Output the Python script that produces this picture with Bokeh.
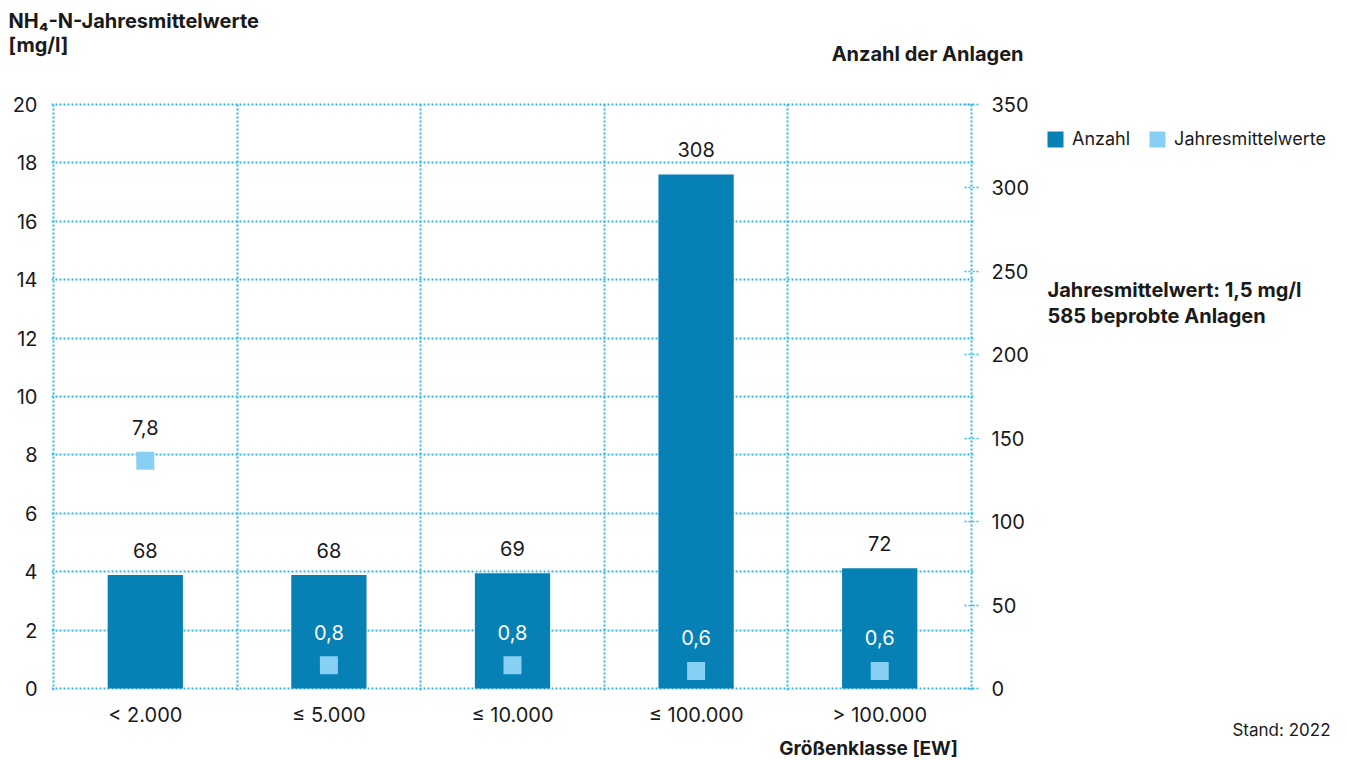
from bokeh.plotting import figure
from bokeh.layouts import column, row
from bokeh.models import (Range1d, LinearAxis, FixedTicker, Legend,
                          LegendItem, ColumnDataSource)
from bokeh.embed import file_html
from bokeh.resources import INLINE
from bokeh.core.properties import value

# ---- data ----
categories = ["< 2.000", "≤ 5.000", "≤ 10.000", "≤ 100.000", "> 100.000"]
anzahl = [68, 68, 69, 308, 72]
jahresmittel = [7.8, 0.8, 0.8, 0.6, 0.6]
left_ticks = [0, 2, 4, 6, 8, 10, 12, 14, 16, 18, 20]
right_ticks = [0, 50, 100, 150, 200, 250, 300, 350]
series_names = ["Anzahl", "Jahresmittelwerte"]

# ---- styles ----
FONT = "Inter"
BAR = "#0780b5"
LIGHT = "#88d0f3"
GRID = "#2db7ea"
TXT = "#1a1a1a"

W = 1340
H = 760
TOP_H = 92
MID_H = 640
BOT_H = H - TOP_H - MID_H
MAIN_W = 1035
SIDE_W = W - MAIN_W

PADPX = 2
plot_w_px = 918
plot_h_px = 584

xs = [i + 0.5 for i in range(len(categories))]
n = len(categories)
left_max = left_ticks[-1]
right_max = right_ticks[-1]
jm_text = [f"{v:.1f}".replace(".", ",") for v in jahresmittel]
jm_color = ["white" if v / left_max * right_max < a else TXT
            for v, a in zip(jahresmittel, anzahl)]

src = ColumnDataSource(dict(x=xs, anzahl=anzahl, anz_txt=[str(a) for a in anzahl],
                            jm=jahresmittel, jm_txt=jm_text, jm_col=jm_color))

px = PADPX * n / plot_w_px
py = PADPX * left_max / plot_h_px
pr = PADPX * right_max / plot_h_px

p = figure(width=MAIN_W, height=MID_H, output_backend="svg", toolbar_location=None,
           x_range=Range1d(-px, n + px), y_range=Range1d(-py, left_max + py),
           min_border_left=51, min_border_right=MAIN_W - 973, min_border_top=102 - TOP_H,
           min_border_bottom=TOP_H + MID_H - 690, title=None)
p.outline_line_color = None
p.frame_align = False
p.extra_y_ranges = {"right": Range1d(-pr, right_max + pr)}

p.xgrid.ticker = FixedTicker(ticks=list(range(n + 1)))
p.ygrid.ticker = FixedTicker(ticks=left_ticks)
for g in (p.xgrid, p.ygrid):
    g.grid_line_color = GRID
    g.grid_line_dash = "2 2"
    g.grid_line_width = 2

def style_axis(a, standoff):
    a.axis_line_color = None
    a.minor_tick_line_color = None
    a.major_label_standoff = standoff
    a.major_label_text_font = FONT
    a.major_label_text_font_size = "20px"
    a.major_label_text_color = TXT

ya = p.yaxis[0]
ya.ticker = FixedTicker(ticks=left_ticks)
style_axis(ya, 14)
ya.major_tick_line_color = None
ya.major_tick_out = 0
ya.major_tick_in = 0

xa = p.xaxis[0]
xa.ticker = FixedTicker(ticks=xs)
xa.major_label_overrides = {x: c for x, c in zip(xs, categories)}
style_axis(xa, 12)
xa.major_tick_line_color = None
xa.major_tick_out = 0
xa.major_tick_in = 0

ra = LinearAxis(y_range_name="right", ticker=FixedTicker(ticks=right_ticks))
style_axis(ra, 13)
ra.major_tick_line_color = GRID
ra.major_tick_line_dash = "2 2"
ra.major_tick_line_width = 1.5
ra.major_tick_in = 9
ra.major_tick_out = 5
p.add_layout(ra, "right")

p.vbar(x="x", top="anzahl", width=0.41, source=src, y_range_name="right",
       fill_color=BAR, line_color=None)
p.text(x="x", y="anzahl", text="anz_txt", source=src, y_range_name="right",
       y_offset=-25, text_align="center", text_baseline="middle",
       text_font=value(FONT), text_font_size="20px", text_color=TXT)

p.scatter(x="x", y="jm", source=src, marker="square", size=18,
          fill_color=LIGHT, line_color=None)
p.text(x="x", y="jm", text="jm_txt", source=src, y_offset=-33,
       text_align="center", text_baseline="middle",
       text_font=value(FONT), text_font_size="20px", text_color="jm_col")


def text_fig(w, h, x0, y0):
    f = figure(width=w, height=h, output_backend="svg", toolbar_location=None,
               x_range=Range1d(x0, x0 + w), y_range=Range1d(y0 + h, y0),
               min_border=0, title=None, x_axis_type=None, y_axis_type=None)
    f.outline_line_color = None
    f.frame_align = False
    f.xgrid.visible = False
    f.ygrid.visible = False
    return f


def txt(f, s, x, y, size, bold=False, align="left"):
    f.text(x=[x], y=[y], text=[s], text_font=value(FONT), text_font_size=size,
           text_font_style="bold" if bold else "normal", text_color=TXT,
           text_align=align, text_baseline="middle")


# header above the chart
top = text_fig(MAIN_W, TOP_H, 0, 0)
txt(top, "NH₄-N-Jahresmittelwerte", 8, 20, "20px", True)
txt(top, "[mg/l]", 8, 44, "20px", True)
txt(top, "Anzahl der Anlagen", 1023, 53, "20px", True, "right")

# footer below the chart
bot = text_fig(MAIN_W, BOT_H, 0, TOP_H + MID_H)
txt(bot, "Größenklasse  [EW]", 962, 748, "19px", True, "right")

# right-hand side, full height: legend and notes.  The legend swatches take
# their style from renderers of the same data, mapped far outside this panel.
side = text_fig(SIDE_W, H, MAIN_W, 0)
side.extra_x_ranges = {"off": Range1d(1000, 1001)}
side.extra_y_ranges = {"off": Range1d(1000, 1001)}
d1 = side.vbar(x="x", top="anzahl", width=0.41, source=src,
               x_range_name="off", y_range_name="off",
               fill_color=BAR, line_color=None)
d2 = side.vbar(x="x", top="jm", width=0.41, source=src,
               x_range_name="off", y_range_name="off",
               fill_color=LIGHT, line_color=None)
legend = Legend(items=[LegendItem(label=series_names[0], renderers=[d1]),
                       LegendItem(label=series_names[1], renderers=[d2])],
                location=(1045 - MAIN_W, H - 149), orientation="horizontal",
                glyph_width=20, glyph_height=20, label_height=20,
                label_standoff=7, spacing=17, padding=0, margin=0,
                border_line_color=None, background_fill_alpha=0,
                label_text_font=FONT, label_text_font_size="18px",
                label_text_color=TXT, label_text_baseline="middle")
side.add_layout(legend, "center")
txt(side, "Jahresmittelwert: 1,5 mg/l", 1047, 289, "20px", True)
txt(side, "585 beprobte Anlagen", 1047, 315, "20px", True)
txt(side, "Stand: 2022", 1330, 729, "17px", False, "right")

layout = row(column(top, p, bot), side)
open("out.html", "w").write(file_html(layout, INLINE))
